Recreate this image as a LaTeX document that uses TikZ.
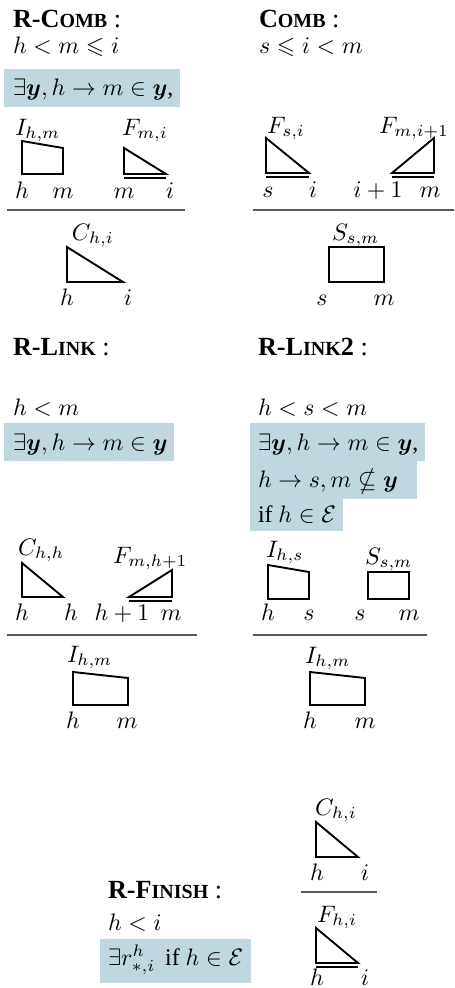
\documentclass[tikz,border=0pt]{standalone}
\usepackage{amsmath,amssymb,bm}
\usepackage{fontspec}
\setmainfont{Liberation Serif}
\definecolor{boxblue}{HTML}{C0D7DF}
\definecolor{rulegray}{HTML}{5A5A5A}
\newcommand{\fsc}[1]{{\fontsize{8.4}{9}\selectfont #1}}
\newcommand{\ttl}[1]{{\fontsize{11}{13}\selectfont #1}}
\tikzset{
  txt/.style={anchor=base west, inner sep=0pt, outer sep=0pt},
  lbl/.style={anchor=base, inner sep=0pt, outer sep=0pt},
  shp/.style={draw=black, line width=0.8pt, line join=miter},
  dbl/.style={draw=black, line width=0.8pt},
  infrule/.style={draw=rulegray, line width=0.45pt},
  hl/.style={fill=boxblue, draw=none},
}
\begin{document}
\begin{tikzpicture}[x=0.42pt, y=-0.42pt]
\useasboundingbox (0,0) rectangle (454,988);

% ---------- R-COMB ----------
\node[txt] (t1) at (13,27) {\ttl{\textbf{R-C\fsc{OMB}} :}};
\node[txt] (c1) at (13,53) {$h < m \leqslant i$};
\fill[hl] (4,69) rectangle (180,107);
\node[txt] (b1) at (13,95) {$\exists \bm{y}, h \rightarrow m \in \bm{y}$,};
\node[txt] (l1a) at (15,135) {$I_{h,m}$};
\draw[shp] (22,141) -- (63,148) -- (63,174) -- (22,174) -- cycle;
\node[txt] (l1b) at (122,135) {$F_{m,i}$};
\draw[shp] (124,148) -- (166,174) -- (124,174) -- cycle;
\draw[dbl] (124,178) -- (166,178);
\node[lbl] (p1a) at (22,198) {$h$};
\node[lbl] (p1b) at (63,198) {$m$};
\node[lbl] (p1c) at (124,198) {$m$};
\node[lbl] (p1d) at (170,198) {$i$};
\draw[infrule] (7,210) -- (185,210);
\node[txt] (l1c) at (72,240) {$C_{h,i}$};
\draw[shp] (67,247) -- (123,282) -- (67,282) -- cycle;
\node[lbl] (p1e) at (67,305) {$h$};
\node[lbl] (p1f) at (128,305) {$i$};

% ---------- COMB ----------
\node[txt] (t2) at (259,27) {\ttl{\textbf{C\fsc{OMB}} :}};
\node[txt] (c2) at (259,53) {$s \leqslant i < m$};
\node[txt] (l2a) at (267,133) {$F_{s,i}$};
\draw[shp] (266,138) -- (309,173) -- (266,173) -- cycle;
\draw[dbl] (266,177) -- (309,177);
\node[txt] (l2b) at (379,133) {$F_{m,i+1}$};
\draw[shp] (434,138) -- (392,173) -- (434,173) -- cycle;
\draw[dbl] (392,177) -- (434,177);
\node[lbl] (p2a) at (268,197) {$s$};
\node[lbl] (p2b) at (313,197) {$i$};
\node[lbl] (p2c) at (378,197) {$i+1$};
\node[lbl] (p2d) at (430,197) {$m$};
\draw[infrule] (253,210) -- (454,210);
\node[txt] (l2c) at (332,240) {$S_{s,m}$};
\draw[shp] (329,247) rectangle (384,282);
\node[lbl] (p2e) at (322,305) {$s$};
\node[lbl] (p2f) at (384,305) {$m$};

% ---------- R-LINK ----------
\node[txt] (t3) at (13,355) {\ttl{\textbf{R-L\fsc{INK}} :}};
\node[txt] (c3) at (13,415) {$h < m$};
\fill[hl] (4,423) rectangle (174,461);
\node[txt] (b3) at (13,450) {$\exists \bm{y}, h \rightarrow m \in \bm{y}$};
\node[txt] (l3a) at (18,555) {$C_{h,h}$};
\draw[shp] (22,563) -- (63,597) -- (22,597) -- cycle;
\node[txt] (l3b) at (113,563) {$F_{m,h+1}$};
\draw[shp] (172,570) -- (129,597) -- (172,597) -- cycle;
\draw[dbl] (129,601) -- (172,601);
\node[lbl] (p3a) at (22,620) {$h$};
\node[lbl] (p3b) at (71,620) {$h$};
\node[lbl] (p3c) at (122,620) {$h+1$};
\node[lbl] (p3d) at (171,620) {$m$};
\draw[infrule] (7,635) -- (197,635);
\node[txt] (l3c) at (67,662) {$I_{h,m}$};
\draw[shp] (73,672) -- (128,678) -- (128,705) -- (73,705) -- cycle;
\node[lbl] (p3e) at (73,728) {$h$};
\node[lbl] (p3f) at (127,728) {$m$};

% ---------- R-LINK2 ----------
\node[txt] (t4) at (258,355) {\ttl{\textbf{R-L\fsc{INK}2} :}};
\node[txt] (c4) at (258,415) {$h < s < m$};
\fill[hl] (250,423) rectangle (425,461);
\fill[hl] (250,461) rectangle (417,499);
\fill[hl] (250,499) rectangle (343,531);
\node[txt] (b4a) at (258,450) {$\exists \bm{y}, h \rightarrow m \in \bm{y}$,};
\node[txt] (b4b) at (258,487) {$h \rightarrow s, m \nsubseteq \bm{y}$};
\node[txt] (b4c) at (258,522) {if $h \in \mathcal{E}$};
\node[txt] (l4a) at (266,557) {$I_{h,s}$};
\draw[shp] (268,565) -- (309,572) -- (309,599) -- (268,599) -- cycle;
\node[txt] (l4b) at (365,564) {$S_{s,m}$};
\draw[shp] (368,572) rectangle (409,599);
\node[lbl] (p4a) at (268,620) {$h$};
\node[lbl] (p4b) at (309,620) {$s$};
\node[lbl] (p4c) at (360,620) {$s$};
\node[lbl] (p4d) at (409,620) {$m$};
\draw[infrule] (253,635) -- (427,635);
\node[txt] (l4c) at (305,663) {$I_{h,m}$};
\draw[shp] (310,672) -- (365,678) -- (365,705) -- (310,705) -- cycle;
\node[lbl] (p4e) at (310,728) {$h$};
\node[lbl] (p4f) at (365,728) {$m$};

% ---------- R-FINISH ----------
\node[txt] (t5) at (108,898) {\ttl{\textbf{R-F\fsc{INISH}} :}};
\node[txt] (c5) at (108,930) {$h < i$};
\fill[hl] (100,939) rectangle (251,983);
\node[txt] (b5) at (108,965) {$\exists r^{h}_{\ast,i}$\ \,if $h \in \mathcal{E}$};
\node[txt] (l5a) at (315,815) {$C_{h,i}$};
\draw[shp] (316,822) -- (358,857) -- (316,857) -- cycle;
\node[lbl] (p5a) at (317,880) {$h$};
\node[lbl] (p5b) at (365,880) {$i$};
\draw[infrule] (301,892) -- (377,892);
\node[txt] (l5b) at (317,922) {$F_{h,i}$};
\draw[shp] (316,928) -- (358,963) -- (316,963) -- cycle;
\draw[dbl] (316,967) -- (358,967);
\node[lbl] (p5c) at (317,985) {$h$};
\node[lbl] (p5d) at (365,985) {$i$};
\end{tikzpicture}
\end{document}
